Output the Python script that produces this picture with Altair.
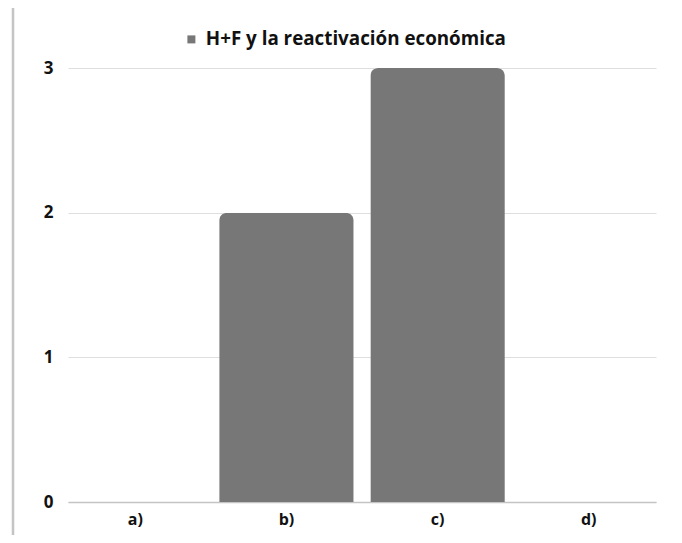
import altair as alt
import pandas as pd

categories = ["a)", "b)", "c)", "d)"]
values = [0, 2, 3, 0]
series_name = "H+F y la reactivación económica"
y_ticks = [0, 1, 2, 3]

df = pd.DataFrame({"cat": categories, "val": values, "serie": [series_name] * len(categories)})

FONT = "Open Sans"
TXT = "#111111"
W = "bold"

bars = alt.Chart(df).mark_bar(
    cornerRadiusTopLeft=8, cornerRadiusTopRight=8
).encode(
    x=alt.X(
        "cat:N", sort=categories,
        scale=alt.Scale(paddingInner=0.11, paddingOuter=0),
        axis=alt.Axis(title=None, labelAngle=0, labelFontSize=16, labelFontWeight=W,
                      labelColor=TXT, labelPadding=9, ticks=False,
                      domainColor="#c4c4c4", domainWidth=1.5, labelFont=FONT),
    ),
    y=alt.Y(
        "val:Q", scale=alt.Scale(domain=[0, 3], nice=False),
        axis=alt.Axis(values=y_ticks, title=None, format="d", labelFontSize=17,
                      labelFontWeight=W, labelColor=TXT, labelPadding=15, ticks=False,
                      domain=False, gridColor="#dedede", labelFont=FONT),
    ),
    color=alt.Color(
        "serie:N", scale=alt.Scale(range=["#777777"]),
        legend=alt.Legend(title=None, orient="none", legendX=114, legendY=-38,
                          symbolType="square", symbolSize=64, labelFontSize=18.8,
                          labelFontWeight=W, labelFont=FONT, labelColor=TXT,
                          labelLimit=600, symbolStrokeWidth=0, labelOffset=5),
    ),
)

frame_df = pd.DataFrame({"k": [0]})
left = alt.Chart(frame_df).mark_rule(color="#c4c4c4", strokeWidth=2.5).encode(
    x=alt.value(-55), y=alt.value(-61), y2=alt.value(471))
top = alt.Chart(frame_df).mark_rule(color="#ececec", strokeWidth=2).encode(
    x=alt.value(-55), x2=alt.value(620), y=alt.value(-61))
bottom = alt.Chart(frame_df).mark_rule(color="#dadada", strokeWidth=2).encode(
    x=alt.value(-55), x2=alt.value(620), y=alt.value(471))

chart = alt.layer(bars, left, top, bottom).properties(
    width=588, height=434,
    padding={"left": 60, "top": 60, "right": 18, "bottom": 33},
    autosize=alt.AutoSizeParams(type="none"),
    background="white",
).configure_view(stroke=None)

chart.save("out.html", embed_options={"renderer": "svg", "actions": False})
